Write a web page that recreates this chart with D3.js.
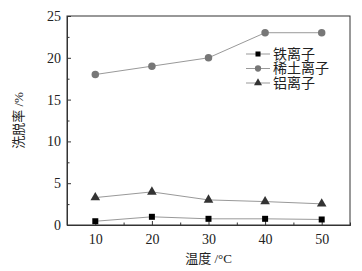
<!DOCTYPE html>
<html>
<head>
<meta charset="utf-8">
<script src="https://cdn.jsdelivr.net/npm/d3@7"></script>
<style>
  body { margin: 0; background: #fff; }
  svg { display: block; }
</style>
</head>
<body>
<svg width="362" height="271"></svg>
<script>
const temps = [10, 20, 30, 40, 50];
const ironRate = [0.45, 0.98, 0.74, 0.74, 0.66];
const rareEarthRate = [18, 19, 20, 23, 23];
const aluminumRate = [3.28, 3.96, 3.0, 2.8, 2.53];
const seriesNames = ['铁离子', '稀土离子', '铝离子'];
const xTicks = [10, 20, 30, 40, 50];
const yTicks = [0, 5, 10, 15, 20, 25];

const serif = '"Liberation Serif", "Times New Roman", "Noto Sans CJK SC", serif';
const margin = { top: 16, right: 12, bottom: 46, left: 67 };
const width = 362, height = 271;

const svg = d3.select('svg');

const x = d3.scaleLinear([5, 55], [margin.left, width - margin.right]);
const y = d3.scaleLinear([0, 25], [height - margin.bottom, margin.top]);

const series = [
  { name: seriesNames[0], values: ironRate, shape: d3.symbolSquare, size: 36, fill: '#000' },
  { name: seriesNames[1], values: rareEarthRate, shape: d3.symbolCircle, size: 44, fill: '#777' },
  { name: seriesNames[2], values: aluminumRate, shape: d3.symbolTriangle, size: 40, fill: '#333' },
];

// frame
svg.append('rect')
  .attr('x', margin.left)
  .attr('y', margin.top)
  .attr('width', width - margin.left - margin.right)
  .attr('height', height - margin.top - margin.bottom)
  .attr('fill', 'none')
  .attr('stroke', '#333')
  .attr('stroke-width', 1);

// axes with inward ticks
const xAxis = d3.axisBottom(x).tickValues(xTicks).tickSizeInner(-4).tickSizeOuter(0).tickPadding(9);
const xMinor = d3.axisBottom(x).tickValues([15, 25, 35, 45]).tickSize(-2.5).tickFormat('');
const yAxis = d3.axisLeft(y).tickValues(yTicks).tickSizeInner(-4).tickSizeOuter(0).tickPadding(6);
const yMinor = d3.axisLeft(y).tickValues([2.5, 7.5, 12.5, 17.5, 22.5]).tickSize(-2.5).tickFormat('');

[xAxis, xMinor].forEach((ax) => {
  svg.append('g')
    .attr('transform', `translate(0, ${height - margin.bottom})`)
    .call(ax)
    .call((g) => g.select('.domain').attr('stroke', '#333'));
});
[yAxis, yMinor].forEach((ax) => {
  svg.append('g')
    .attr('transform', `translate(${margin.left}, 0)`)
    .call(ax)
    .call((g) => g.select('.domain').attr('stroke', '#333'));
});

svg.selectAll('.tick line').attr('stroke', '#333');
svg.selectAll('.tick text')
  .style('font-family', serif)
  .style('font-size', '14px')
  .attr('fill', '#222');

// lines and markers
const line = d3.line()
  .x((d, i) => x(temps[i]))
  .y((d) => y(d));

series.forEach((s) => {
  svg.append('path')
    .datum(s.values)
    .attr('d', line)
    .attr('fill', 'none')
    .attr('stroke', '#999')
    .attr('stroke-width', 1);

  svg.append('g')
    .selectAll('path')
    .data(s.values)
    .join('path')
      .attr('transform', (d, i) => `translate(${x(temps[i])}, ${y(d)})`)
      .attr('d', d3.symbol(s.shape, s.size))
      .attr('fill', s.fill);
});

// legend
const legend = svg.append('g').attr('transform', 'translate(246, 54)');
series.forEach((s, i) => {
  const row = legend.append('g').attr('transform', `translate(0, ${i * 14.5})`);
  row.append('line')
    .attr('x1', 0).attr('x2', 24)
    .attr('stroke', '#999');
  row.append('path')
    .attr('transform', 'translate(12, 0)')
    .attr('d', d3.symbol(s.shape, s.size * 0.7))
    .attr('fill', s.fill);
  row.append('text')
    .text(s.name)
    .attr('x', 27)
    .attr('dominant-baseline', 'central')
    .style('font-family', serif)
    .style('font-size', '14px')
    .attr('fill', '#222');
});

// axis titles
svg.append('text')
  .text('温度 /°C')
  .attr('x', (margin.left + width - margin.right) / 2)
  .attr('y', 263)
  .attr('text-anchor', 'middle')
  .style('font-family', serif)
  .style('font-size', '13px')
  .attr('fill', '#222');

svg.append('text')
  .text('洗脱率 /%')
  .attr('transform', `translate(23, ${(margin.top + height - margin.bottom) / 2}) rotate(-90)`)
  .attr('text-anchor', 'middle')
  .style('font-family', serif)
  .style('font-size', '13px')
  .attr('fill', '#222');
</script>
</body>
</html>
